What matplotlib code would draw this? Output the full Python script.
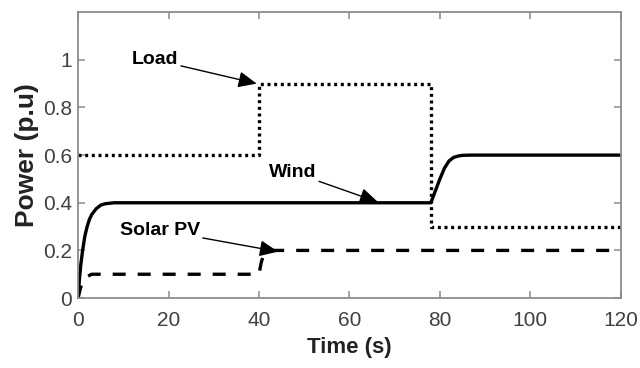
import matplotlib
matplotlib.use('Agg')
import matplotlib.pyplot as plt

plt.rcParams['font.family'] = ['Liberation Sans', 'DejaVu Sans']

# values
load_t = [0, 40, 40, 78, 78, 120]
load_p = [0.6, 0.6, 0.9, 0.9, 0.3, 0.3]

wind_t = [0, 0.3, 0.6, 1, 1.5, 2, 2.5, 3, 4, 5, 6, 8, 10, 78, 79, 80, 81, 82, 83, 84, 85, 87, 120]
wind_p = [0, 0.08, 0.14, 0.2, 0.26, 0.3, 0.33, 0.35, 0.375, 0.39, 0.396, 0.4, 0.4,
          0.4, 0.45, 0.5, 0.545, 0.575, 0.59, 0.596, 0.599, 0.6, 0.6]

solar_t = [0, 0.5, 1, 2, 3, 40, 40.5, 41, 42, 43, 120]
solar_p = [0, 0.04, 0.07, 0.09, 0.1, 0.1, 0.15, 0.18, 0.195, 0.2, 0.2]

xticks = [0, 20, 40, 60, 80, 100, 120]
yticks = [0, 0.2, 0.4, 0.6, 0.8, 1]
ytick_labels = ['0', '0.2', '0.4', '0.6', '0.8', '1']

fig = plt.figure(figsize=(6.4, 3.68), dpi=100)
ax = fig.add_axes([0.122, 0.19, 0.848, 0.777])

ax.plot(load_t, load_p, color='black', lw=2.4, linestyle=(0, (0.9, 1.1)))
ax.plot(wind_t, wind_p, color='black', lw=2.4)
ax.plot(solar_t, solar_p, color='black', lw=2.4, linestyle=(0, (3.9, 3.6)))

arrow = dict(arrowstyle='-|>,head_length=0.8,head_width=0.35', color='black', lw=1.0,
             shrinkA=0, shrinkB=0)
ax.annotate('Load', xy=(39.5, 0.9), xytext=(17.0, 1.0), fontsize=14, fontweight='bold',
            ha='center', va='center', arrowprops=arrow)
ax.annotate('Wind', xy=(66.3, 0.403), xytext=(47.4, 0.529), fontsize=14, fontweight='bold',
            ha='center', va='center', arrowprops=arrow)
ax.annotate('Solar PV', xy=(44.2, 0.195), xytext=(18.1, 0.285), fontsize=14, fontweight='bold',
            ha='center', va='center', arrowprops=arrow)

ax.set_xlim(0, 120)
ax.set_ylim(0, 1.2)
ax.set_xticks(xticks)
ax.set_yticks(yticks)
ax.set_yticklabels(ytick_labels)
ax.tick_params(direction='in', top=True, right=True, length=5, width=1.1, color='#8c8c8c',
               labelsize=15, labelcolor='#404040')
ax.tick_params(axis='x', pad=9)
ax.tick_params(axis='y', pad=4.5)
for s in ax.spines.values():
    s.set_color('#8c8c8c')
    s.set_linewidth(1.3)
ax.set_xlabel('Time (s)', fontsize=16, fontweight='bold', color='#222222', labelpad=5)
ax.set_ylabel('Power (p.u)', fontsize=19, fontweight='bold', color='#222222', labelpad=3)

fig.savefig('out.png', dpi=100)
